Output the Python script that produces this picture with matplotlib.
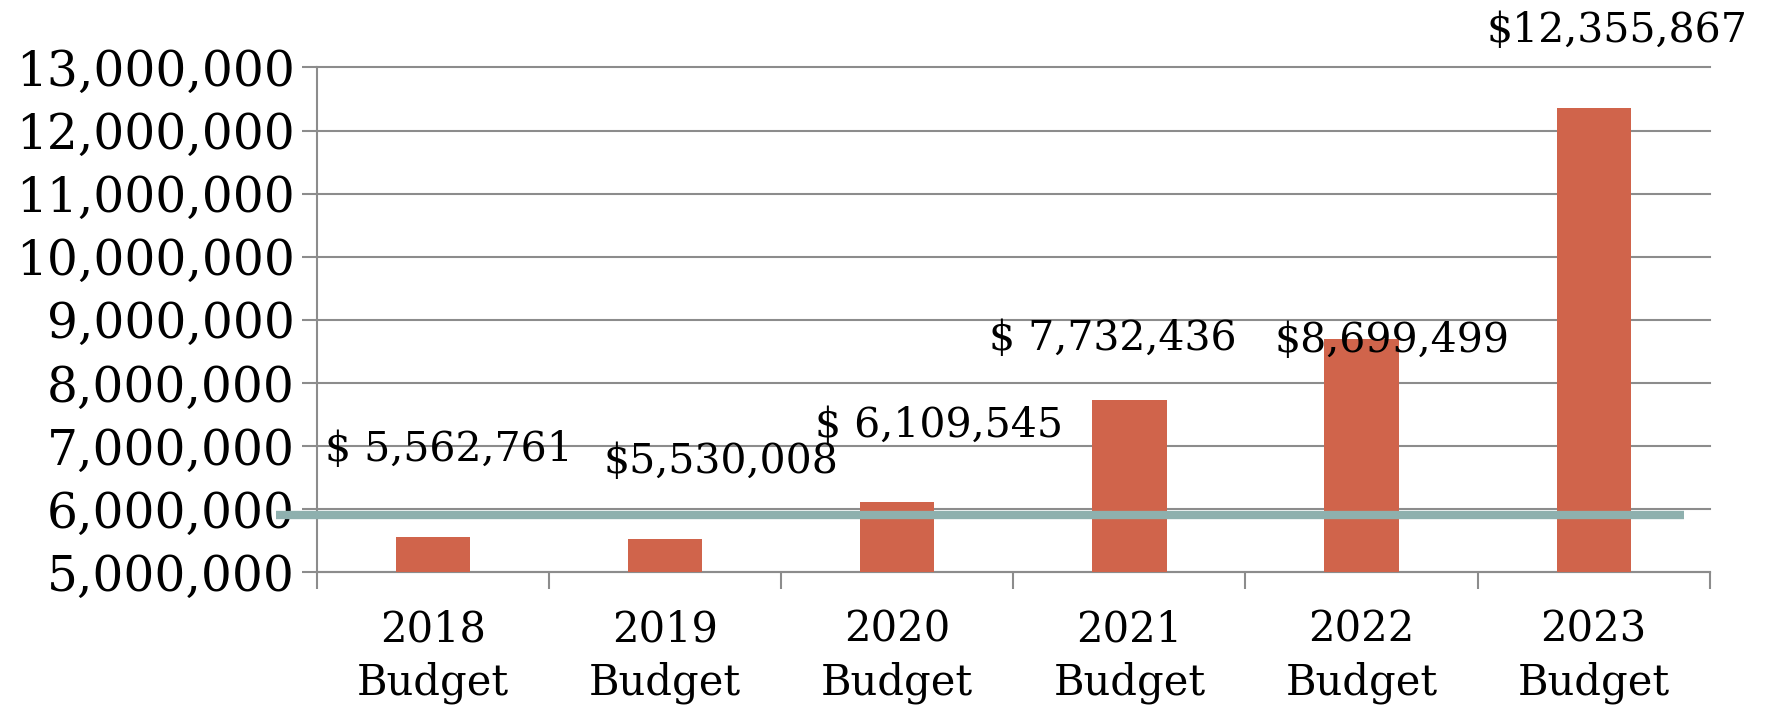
import numpy as np
import matplotlib
matplotlib.use("Agg")
import matplotlib.pyplot as plt
from matplotlib.ticker import FuncFormatter, MultipleLocator

# data
years = ["2018", "2019", "2020", "2021", "2022", "2023"]
budgets = [5562761, 5530008, 6109545, 7732436, 8699499, 12355867]
bar_labels = ["$ 5,562,761", "$5,530,008", "$ 6,109,545", "$ 7,732,436", "$8,699,499", "$12,355,867"]
reference_level = 5910000

# hand-placed label spots (category offset, y value)
label_dx = [-0.43, -0.26, -0.32, -0.57, -0.37, -0.40]
label_y = [6930000, 6740000, 7310000, 8700000, 8670000, 13570000]

BAR = "#D0644B"
TEAL = "#8EB0AE"
GRID = "#8C8C8C"

plt.rcParams['font.family'] = ['DejaVu Serif']

fig = plt.figure(figsize=(17.7, 7.1), dpi=100)
ax = fig.add_axes([0.179, 0.194, 0.787, 0.711])

x = np.arange(len(years))
ax.bar(x, budgets, width=0.32, color=BAR, zorder=3)

ax.set_ylim(5000000, 13000000)
ax.set_xlim(-0.5, len(years) - 0.5)
ax.yaxis.set_major_locator(MultipleLocator(1000000))
ax.yaxis.set_major_formatter(FuncFormatter(lambda v, p: f"{int(v):,}"))
ax.grid(axis="y", color=GRID, linewidth=1.5, zorder=0)
for gl in ax.get_ygridlines():
    gl.set_clip_on(False)

# category labels sit between boundary ticks
ax.set_xticks(np.arange(-0.5, len(years)), minor=False)
ax.set_xticklabels([])
ax.set_xticks(x, minor=True)
ax.set_xticklabels([f"{y}\nBudget" for y in years], minor=True, fontsize=30, linespacing=1.35)
ax.tick_params(axis="x", which="major", length=12, width=1.5, color=GRID)
ax.tick_params(axis="x", which="minor", length=0, pad=26)
ax.tick_params(axis="y", length=11, width=1.5, color=GRID, labelsize=35, pad=5)

for s in ["top", "right"]:
    ax.spines[s].set_visible(False)
for s in ["left", "bottom"]:
    ax.spines[s].set_color(GRID)
    ax.spines[s].set_linewidth(1.5)

# reference line runs a bit past the plot on both sides
ax.plot([-0.675, 5.39], [reference_level, reference_level], color=TEAL, linewidth=6,
        solid_capstyle="butt", clip_on=False, zorder=4)

for i, txt in enumerate(bar_labels):
    ax.text(x[i] + label_dx[i] + 0.5, label_y[i], txt, ha="center", va="center",
            fontsize=29.5, clip_on=False, zorder=5)

fig.savefig("out.png", dpi=100)
